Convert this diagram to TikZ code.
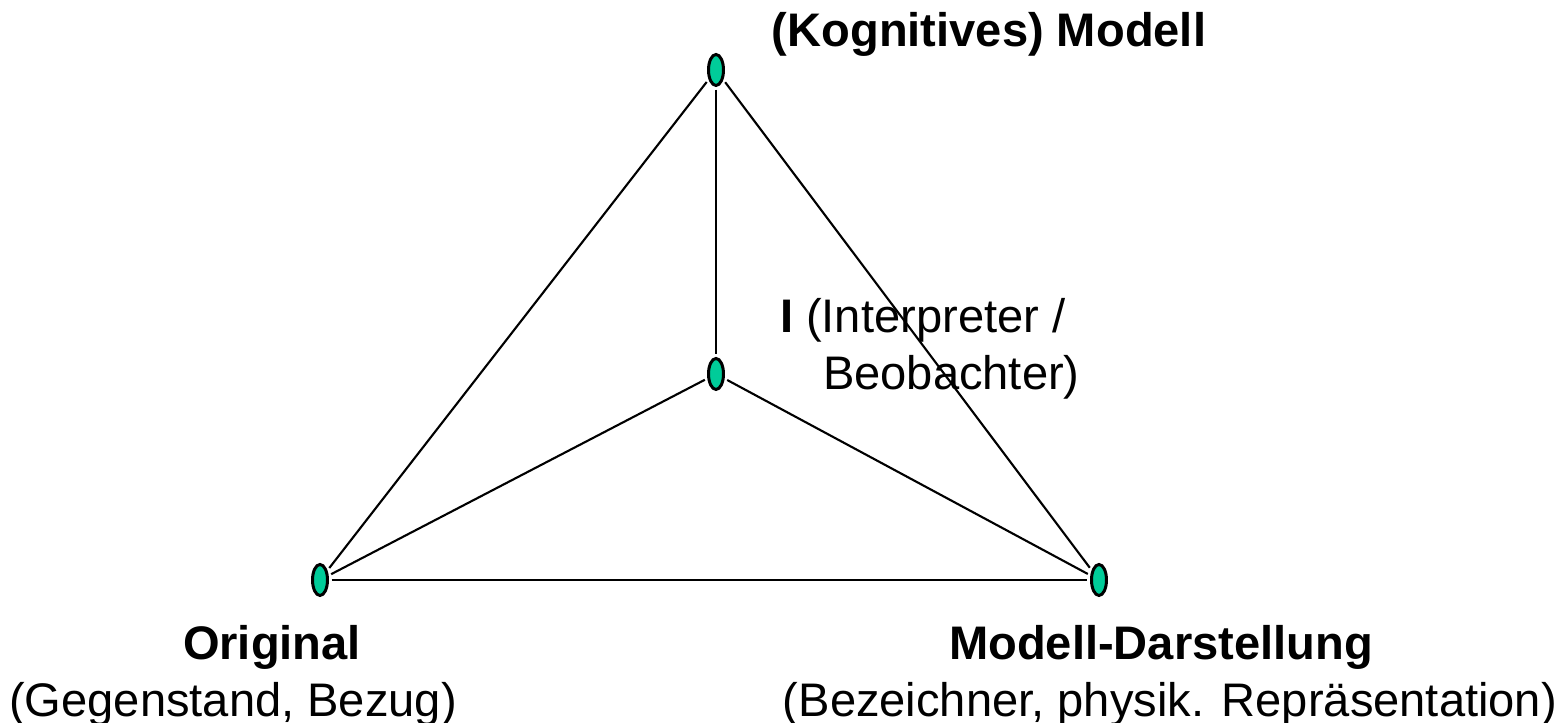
\documentclass[tikz,border=0pt]{standalone}
\usepackage{fontspec}
\setmainfont{Liberation Sans}
\usetikzlibrary{shapes.geometric}
\definecolor{knot}{RGB}{0,204,153}

\begin{document}
\begin{tikzpicture}
[draw=black, line width=0.6pt,
vertex/.style={ellipse, draw, fill=knot, line width=0.85pt, inner sep=0pt, minimum width=1.5mm, minimum height=3.1mm, outer sep=1.2pt},
label0/.style={inner sep=0pt, font=\fontsize{13.4}{16}\selectfont},
label1/.style={label0, font=\fontsize{13.4}{16}\selectfont\bfseries}]

\useasboundingbox (0,0) rectangle (15.66,-7.23);

\node[vertex] (m) at (7.16,-0.70) {};
\node[vertex] (i) at (7.16,-3.74) {};
\node[vertex] (o) at (3.20,-5.80) {};
\node[vertex] (d) at (10.99,-5.80) {};

\draw (m) -- (i);
\draw (m) -- (o);
\draw (m) -- (d);
\draw (i) -- (o);
\draw (i) -- (d);
\draw (o) -- (d);

\node[label1, anchor=base] (mlabel) at (9.89,-0.47) {(Kognitives) Modell};

\node[label0, anchor=base west] (ilabel) at (7.79,-3.33) {\textbf{I} (Interpreter /};
\node[label0, anchor=base west] (inote) at (8.22,-3.90) {Beobachter)};

\node[label1, anchor=base] (olabel) at (2.72,-6.60) {Original};
\node[label0, anchor=base] (onote) at (2.33,-7.17) {(Gegenstand, Bezug)};

\node[label1, anchor=base] (dlabel) at (11.61,-6.60) {Modell-Darstellung};
\node[label0, anchor=base east] (dnote) at (15.58,-7.17) {(Bezeichner, physik. Repräsentation)};

\end{tikzpicture}
\end{document}
